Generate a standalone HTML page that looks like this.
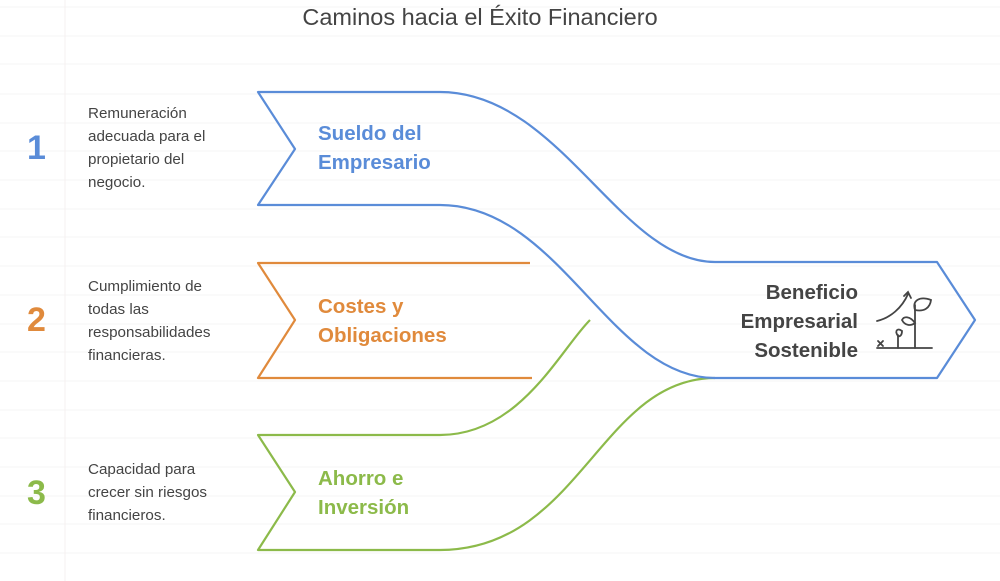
<!DOCTYPE html>
<html><head><meta charset="utf-8"><style>
body{margin:0;width:1000px;height:581px;background:#fff;overflow:hidden;font-family:"Liberation Sans",sans-serif;}
</style></head><body>
<svg width="1000" height="581" xmlns="http://www.w3.org/2000/svg" style="position:absolute;left:0;top:0">
<g stroke="#f6f6f6" stroke-width="1">
<line x1="0" y1="7" x2="1000" y2="7"/><line x1="0" y1="36" x2="1000" y2="36"/><line x1="0" y1="64" x2="1000" y2="64"/><line x1="0" y1="94" x2="1000" y2="94"/><line x1="0" y1="123" x2="1000" y2="123"/><line x1="0" y1="151" x2="1000" y2="151"/><line x1="0" y1="180" x2="1000" y2="180"/><line x1="0" y1="209" x2="1000" y2="209"/><line x1="0" y1="237" x2="1000" y2="237"/><line x1="0" y1="266" x2="1000" y2="266"/><line x1="0" y1="295" x2="1000" y2="295"/><line x1="0" y1="324" x2="1000" y2="324"/><line x1="0" y1="352" x2="1000" y2="352"/><line x1="0" y1="381" x2="1000" y2="381"/><line x1="0" y1="410" x2="1000" y2="410"/><line x1="0" y1="438" x2="1000" y2="438"/><line x1="0" y1="467" x2="1000" y2="467"/><line x1="0" y1="496" x2="1000" y2="496"/><line x1="0" y1="524" x2="1000" y2="524"/><line x1="0" y1="553" x2="1000" y2="553"/>
<line x1="65" y1="0" x2="65" y2="581" stroke="#f5f0f0"/>
</g>
<g fill="none" stroke-width="2.2" stroke-linejoin="round">
<path stroke="#e08a3c" d="M530,263 L258,263 L295,320 L258,378 L532,378"/>
<path stroke="#8cba4a" d="M590,320 C560,350 520,435 440,435 L258,435 L295,492 L258,550 L440,550 C580,550 600,378 715,378"/>
<path stroke="#5a8cd8" d="M715,378 C610,378 560,205 440,205 L258,205 L295,149 L258,92 L440,92 C560,92 620,262 715,262 L937,262 L975,320 L937,378 Z"/>
</g>
<g fill="none" stroke="#444" stroke-width="1.8" stroke-linecap="round">
<line x1="877" y1="348" x2="932" y2="348"/>
<path d="M877,321 C890,318 902,308 908,294"/>
<path d="M904,296 L908,292 L911,298"/>
<line x1="915" y1="348" x2="915" y2="305"/>
<path d="M915,310 C912,300 920,296 931,300 C930,308 924,312 915,310Z"/>
<path d="M915,323 C910,316 904,316 902,320 C905,326 911,326 915,323Z"/>
<line x1="898" y1="348" x2="898" y2="335"/>
<path d="M898,336 C894,330 898,328 902,331 C902,335 900,337 898,336Z"/>
<path d="M878,341 L883,346 M883,341 L878,346"/>
</g>
</svg>
<div style="position:absolute;left:0;width:960px;top:4px;text-align:center;font-size:23.5px;color:#444">Caminos hacia el Éxito Financiero</div>
<div style="position:absolute;left:27px;top:129px;font-size:34px;font-weight:bold;color:#5a8cd8">1</div>
<div style="position:absolute;left:27px;top:301px;font-size:34px;font-weight:bold;color:#e08a3c">2</div>
<div style="position:absolute;left:27px;top:474px;font-size:34px;font-weight:bold;color:#8cba4a">3</div>
<div style="position:absolute;left:88px;top:102px;font-size:15.2px;line-height:23px;color:#444">Remuneración<br>adecuada para el<br>propietario del<br>negocio.</div>
<div style="position:absolute;left:88px;top:275px;font-size:15.2px;line-height:23px;color:#444">Cumplimiento de<br>todas las<br>responsabilidades<br>financieras.</div>
<div style="position:absolute;left:88px;top:458px;font-size:15.2px;line-height:23px;color:#444">Capacidad para<br>crecer sin riesgos<br>financieros.</div>
<div style="position:absolute;left:318px;top:119px;font-size:20.5px;line-height:29px;font-weight:bold;color:#5a8cd8">Sueldo del<br>Empresario</div>
<div style="position:absolute;left:318px;top:292px;font-size:20.5px;line-height:29px;font-weight:bold;color:#e08a3c">Costes y<br>Obligaciones</div>
<div style="position:absolute;left:318px;top:464px;font-size:20.5px;line-height:29px;font-weight:bold;color:#8cba4a">Ahorro e<br>Inversión</div>
<div style="position:absolute;right:142px;top:278px;font-size:20.5px;line-height:29px;font-weight:bold;color:#444;text-align:right">Beneficio<br>Empresarial<br>Sostenible</div>
</body></html>
